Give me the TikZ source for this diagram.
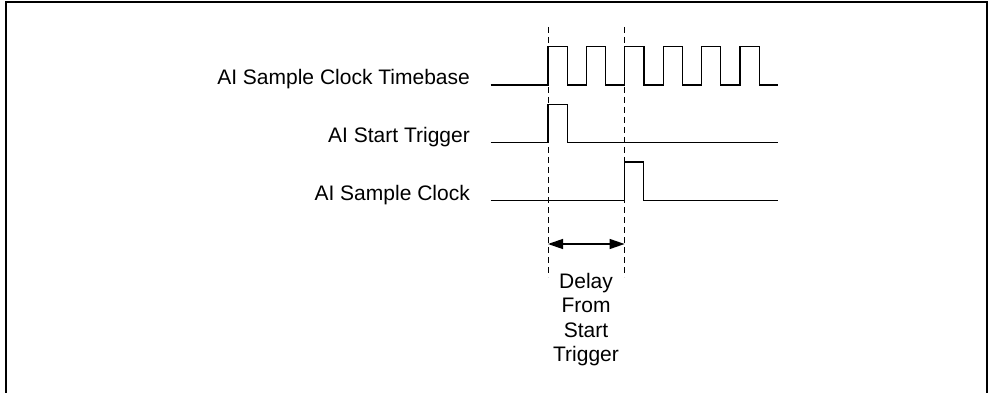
\documentclass[tikz,border=0pt]{standalone}
\usepackage{fontspec}
\setmainfont{Liberation Sans}
\usetikzlibrary{arrows.meta}
\begin{document}
\begin{tikzpicture}[x=1pt,y=-1pt,
  wave/.style={line width=1.3pt, line join=miter},
  guide/.style={line width=1pt, dash pattern=on 6pt off 4pt},
  lbl/.style={font=\fontsize{21}{24.5}\selectfont, anchor=base east, inner sep=0pt},
  frame/.style={line width=2.4pt},
  dim/.style={line width=1.3pt, {Triangle[length=15pt,width=10pt]}-{Triangle[length=15pt,width=10pt]}}]
\useasboundingbox (0,0) rectangle (988,393);
% frame
\draw[frame] (6,393) -- (6,2) -- (987,2) -- (987,393);
% guides
\coordinate (g1t) at (548,27);
\coordinate (g1b) at (548,277);
\coordinate (g2t) at (624.6,27);
\coordinate (g2b) at (624.6,277);
\draw[guide] (g1t) -- (g1b);
\draw[guide] (g2t) -- (g2b);
% labels
\node[lbl] (tb) at (470,85) {AI Sample Clock Timebase};
\node[lbl] (st) at (470,142.7) {AI Start Trigger};
\node[lbl] (sc) at (470,200.7) {AI Sample Clock};
% waveforms
\draw[wave] (490.7,85) foreach \i in {0,...,5} {
  -- ({548+38.4*\i},85) -- ({548+38.4*\i},46.7) -- ({567.2+38.4*\i},46.7) -- ({567.2+38.4*\i},85) } -- (778,85);
\draw[wave] (490.7,142.7) -- (548,142.7) -- (548,104.7) -- (567.2,104.7) -- (567.2,142.7) -- (778,142.7);
\draw[wave] (490.7,200.7) -- (624.6,200.7) -- (624.6,162) -- (643.8,162) -- (643.8,200.7) -- (778,200.7);
% delay arrow
\coordinate (a1) at (548,244);
\coordinate (a2) at (624.6,244);
\draw[dim] (a1) -- (a2);
\node[font=\fontsize{21}{24.5}\selectfont, align=center, anchor=base, inner sep=0pt] (delay) at (586,361.8) {Delay\\From\\Start\\Trigger};
\end{tikzpicture}
\end{document}
